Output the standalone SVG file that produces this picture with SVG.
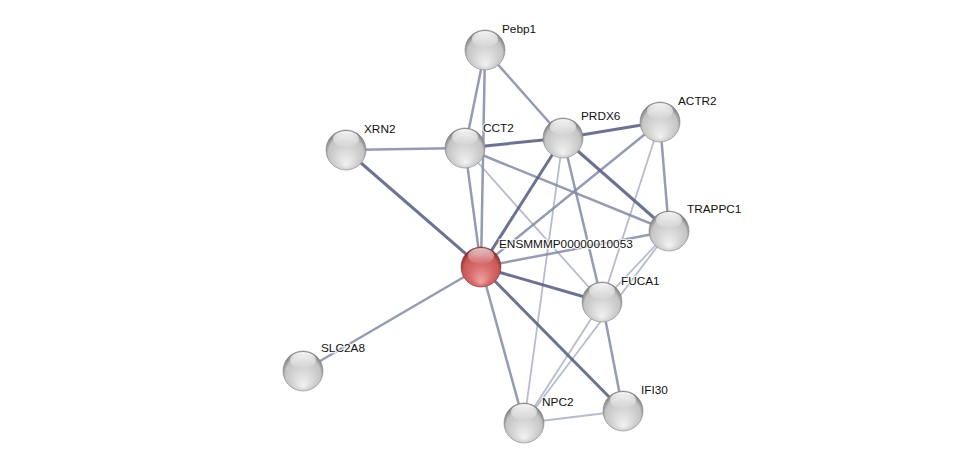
<svg xmlns="http://www.w3.org/2000/svg" width="976" height="468" viewBox="0 0 976 468">
<defs>
<radialGradient id="gGray" cx="50%" cy="55%" r="52%" fx="50%" fy="88%">
<stop offset="0" stop-color="#f2f2f2"/>
<stop offset="0.5" stop-color="#d6d6d6"/>
<stop offset="0.85" stop-color="#c4c4c4"/>
<stop offset="1" stop-color="#858585"/>
</radialGradient>
<radialGradient id="gRed" cx="50%" cy="55%" r="52%" fx="50%" fy="88%">
<stop offset="0" stop-color="#f2a4a4"/>
<stop offset="0.5" stop-color="#d86c6c"/>
<stop offset="0.85" stop-color="#c85858"/>
<stop offset="1" stop-color="#8a3232"/>
</radialGradient>
<linearGradient id="gHi" x1="0" y1="0" x2="0" y2="1">
<stop offset="0" stop-color="#ffffff" stop-opacity="0.95"/>
<stop offset="1" stop-color="#ffffff" stop-opacity="0.05"/>
</linearGradient>
</defs>
<style>
.e3{stroke:#5c6485;stroke-width:3;stroke-opacity:0.9;fill:none}
.e2{stroke:#8189a6;stroke-width:2.5;stroke-opacity:0.85;fill:none}
.e1{stroke:#a9afc4;stroke-width:1.8;stroke-opacity:0.85;fill:none}
.n{fill:url(#gGray);stroke:#8a8a8a;stroke-width:0.6}
.r{fill:url(#gRed);stroke:#8a3a3a;stroke-width:0.6}
.hi{fill:url(#gHi)}
text{font-family:"Liberation Sans",Arial,sans-serif;font-size:11.8px;fill:#111;paint-order:stroke;stroke:#fff;stroke-width:2.5;stroke-opacity:0.8;stroke-linejoin:round}
</style>
<rect width="976" height="468" fill="#ffffff"/>
<g id="edges">
<line class="e1" x1="465" y1="148" x2="602" y2="302"/>
<line class="e1" x1="563" y1="138" x2="524" y2="423"/>
<line class="e1" x1="660" y1="122" x2="602" y2="302"/>
<line class="e1" x1="669" y1="231" x2="602" y2="302"/>
<line class="e1" x1="669" y1="231" x2="524" y2="423"/>
<line class="e1" x1="602" y1="302" x2="524" y2="423"/>
<line class="e2" x1="485" y1="50" x2="465" y2="148"/>
<line class="e2" x1="485" y1="50" x2="563" y2="138"/>
<line class="e2" x1="485" y1="50" x2="481" y2="267"/>
<line class="e2" x1="346" y1="150" x2="465" y2="148"/>
<line class="e2" x1="465" y1="148" x2="669" y2="231"/>
<line class="e2" x1="465" y1="148" x2="481" y2="267"/>
<line class="e2" x1="660" y1="122" x2="481" y2="267"/>
<line class="e2" x1="660" y1="122" x2="669" y2="231"/>
<line class="e2" x1="669" y1="231" x2="481" y2="267"/>
<line class="e2" x1="481" y1="267" x2="303" y2="371"/>
<line class="e2" x1="481" y1="267" x2="524" y2="423"/>
<line class="e2" x1="602" y1="302" x2="623" y2="411"/>
<line class="e1" x1="524" y1="423" x2="623" y2="411"/>
<line class="e2" x1="563" y1="138" x2="602" y2="302"/>
<line class="e3" x1="346" y1="150" x2="481" y2="267"/>
<line class="e3" x1="465" y1="148" x2="563" y2="138"/>
<line class="e3" x1="563" y1="138" x2="660" y2="122"/>
<line class="e3" x1="563" y1="138" x2="669" y2="231"/>
<line class="e3" x1="563" y1="138" x2="481" y2="267"/>
<line class="e3" x1="481" y1="267" x2="623" y2="411"/>
<line class="e3" x1="481" y1="267" x2="602" y2="302"/>
</g>
<g id="Pebp1"><circle class="n" cx="485" cy="50" r="20"/><ellipse class="hi" cx="485" cy="39" rx="13" ry="8"/><text x="502" y="33">Pebp1</text></g>
<g id="XRN2"><circle class="n" cx="346" cy="150" r="20"/><ellipse class="hi" cx="346" cy="139" rx="13" ry="8"/><text x="364" y="133">XRN2</text></g>
<g id="CCT2"><circle class="n" cx="465" cy="148" r="20"/><ellipse class="hi" cx="465" cy="137" rx="13" ry="8"/><text x="483" y="132">CCT2</text></g>
<g id="PRDX6"><circle class="n" cx="563" cy="138" r="20"/><ellipse class="hi" cx="563" cy="127" rx="13" ry="8"/><text x="581" y="120">PRDX6</text></g>
<g id="ACTR2"><circle class="n" cx="660" cy="122" r="20"/><ellipse class="hi" cx="660" cy="111" rx="13" ry="8"/><text x="678" y="105">ACTR2</text></g>
<g id="TRAPPC1"><circle class="n" cx="669" cy="231" r="20"/><ellipse class="hi" cx="669" cy="220" rx="13" ry="8"/><text x="687" y="213">TRAPPC1</text></g>
<g id="ENSMMMP00000010053"><circle class="r" cx="481" cy="267" r="20"/><ellipse class="hi" cx="481" cy="256" rx="13" ry="8" opacity="0.75"/><text x="499" y="248">ENSMMMP00000010053</text></g>
<g id="FUCA1"><circle class="n" cx="602" cy="302" r="20"/><ellipse class="hi" cx="602" cy="291" rx="13" ry="8"/><text x="621" y="285">FUCA1</text></g>
<g id="SLC2A8"><circle class="n" cx="303" cy="371" r="20"/><ellipse class="hi" cx="303" cy="360" rx="13" ry="8"/><text x="321" y="352">SLC2A8</text></g>
<g id="NPC2"><circle class="n" cx="524" cy="423" r="20"/><ellipse class="hi" cx="524" cy="412" rx="13" ry="8"/><text x="542" y="406">NPC2</text></g>
<g id="IFI30"><circle class="n" cx="623" cy="411" r="20"/><ellipse class="hi" cx="623" cy="400" rx="13" ry="8"/><text x="641" y="394">IFI30</text></g>
</svg>
